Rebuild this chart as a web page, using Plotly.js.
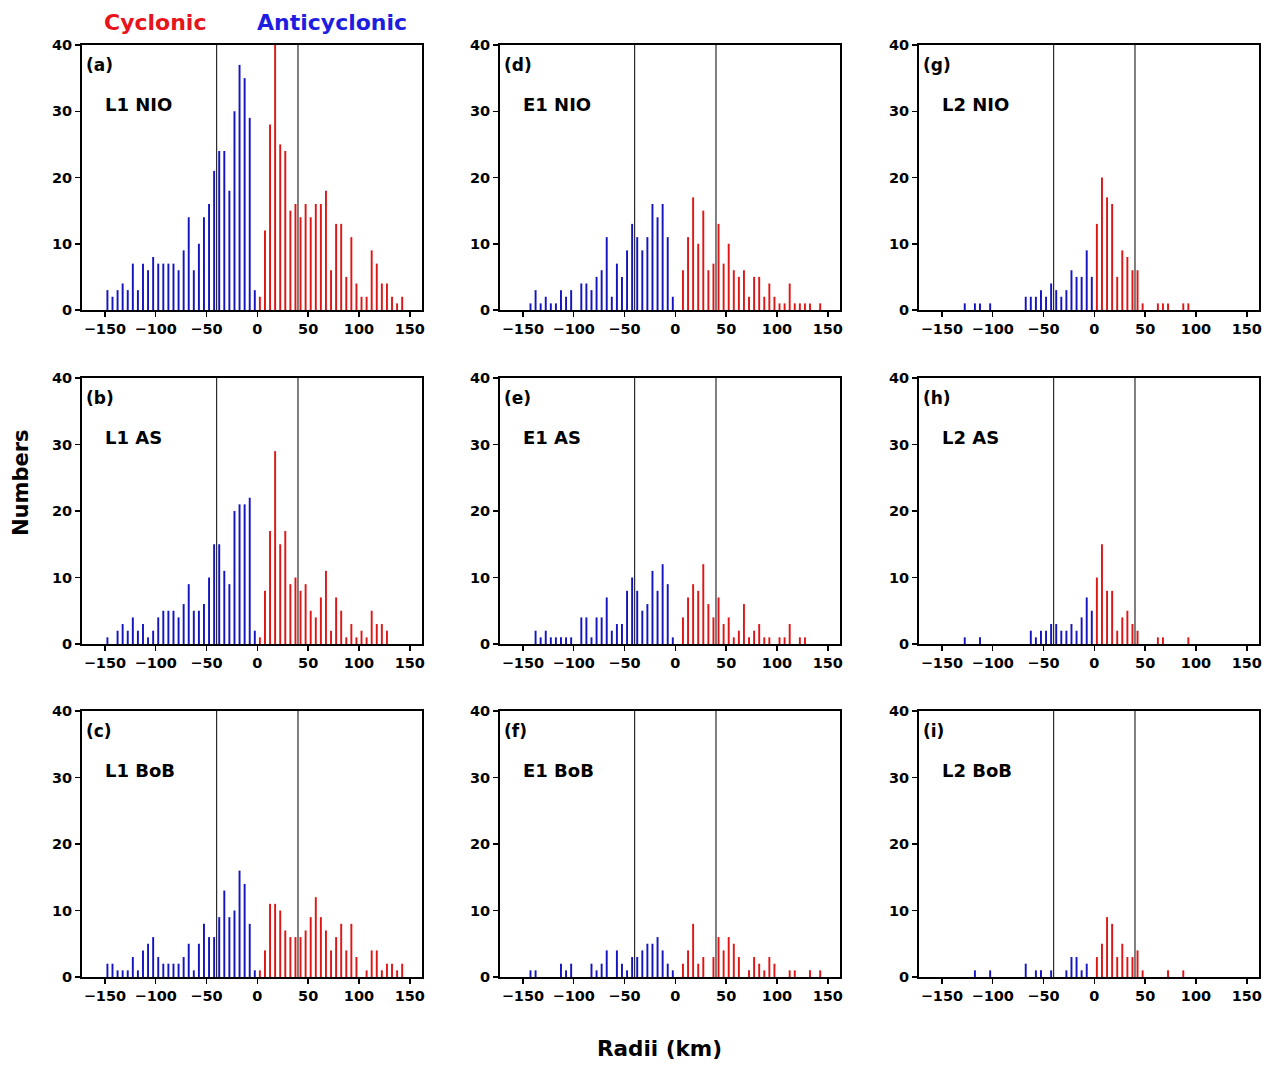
<!DOCTYPE html>
<html>
<head>
<meta charset="utf-8">
<script src="https://cdn.plot.ly/plotly-3.0.1.min.js"></script>
<style>html,body{margin:0;padding:0;background:#fff;}#chart{width:1279px;height:1066px;}</style>
</head>
<body>
<div id="chart"></div>
<script>
// Bin centres (km)
const blueBins = [-147.5,-142.5,-137.5,-132.5,-127.5,-122.5,-117.5,-112.5,-107.5,-102.5,-97.5,-92.5,-87.5,-82.5,-77.5,-72.5,-67.5,-62.5,-57.5,-52.5,-47.5,-42.5,-37.5,-32.5,-27.5,-22.5,-17.5,-12.5,-7.5,-2.5];
const redBins = [2.5,7.5,12.5,17.5,22.5,27.5,32.5,37.5,42.5,47.5,52.5,57.5,62.5,67.5,72.5,77.5,82.5,87.5,92.5,97.5,102.5,107.5,112.5,117.5,122.5,127.5,132.5,137.5,142.5];

// Panel names
const panelLetters = ["(a)","(b)","(c)","(d)","(e)","(f)","(g)","(h)","(i)"];
const panelNames = ["L1 NIO","L1 AS","L1 BoB","E1 NIO","E1 AS","E1 BoB","L2 NIO","L2 AS","L2 BoB"];

// Anticyclonic (blue) counts
const antiA = [3,2,3,4,3,7,3,7,6,8,7,7,7,7,6,9,14,6,10,14,16,21,24,24,18,30,37,35,29,3];
const antiB = [1,0,2,3,2,4,2,3,1,2,4,5,5,5,4,6,9,5,5,6,10,15,15,11,9,20,21,21,22,2];
const antiC = [2,2,1,1,1,3,1,4,5,6,3,2,2,2,2,3,5,1,5,8,6,6,9,13,9,10,16,14,8,1];
const antiD = [0,1,3,1,2,1,1,3,2,3,0,4,4,3,5,6,11,2,7,5,9,13,11,9,11,16,14,16,11,2];
const antiE = [0,0,2,1,2,1,1,1,1,1,0,4,4,1,4,4,7,2,3,3,8,10,8,5,6,11,8,12,9,1];
const antiF = [0,1,1,0,0,0,0,2,1,2,0,0,0,2,1,2,4,0,4,2,1,3,3,4,5,5,6,4,2,1];
const antiG = [0,0,0,0,1,0,1,1,0,1,0,0,0,0,0,0,2,2,2,3,2,4,3,2,3,6,5,5,9,5];
const antiH = [0,0,0,0,1,0,0,1,0,0,0,0,0,0,0,0,0,2,1,2,2,3,3,2,2,3,2,4,7,5];
const antiI = [0,0,0,0,0,0,1,0,0,1,0,0,0,0,0,0,2,0,1,1,0,1,0,0,1,3,3,1,2,0];

// Cyclonic (red) counts
const cycA = [2,12,28,40,25,24,15,16,14,16,14,16,16,18,6,13,13,5,11,4,2,2,9,7,4,4,2,1,2];
const cycB = [1,8,17,29,15,17,9,10,8,9,5,4,7,11,2,7,5,1,3,1,2,1,5,3,3,2,0,0,0];
const cycC = [1,4,11,11,10,7,6,6,6,7,9,12,9,7,4,6,8,4,8,3,0,1,4,4,1,2,2,1,2];
const cycD = [0,6,11,17,10,15,6,7,13,7,10,6,5,6,2,5,5,2,4,2,1,1,4,1,1,1,1,0,1];
const cycE = [0,4,7,9,8,12,6,4,7,3,4,1,2,6,1,2,3,1,1,0,1,1,3,0,1,1,0,0,0];
const cycF = [0,2,4,8,2,3,0,3,6,4,6,5,3,0,1,3,2,1,3,2,0,0,1,1,0,0,1,0,1];
const cycG = [13,20,17,16,5,9,8,6,6,1,0,0,1,1,1,0,0,1,1,0,0,0,0,0,0,0,0,0,0];
const cycH = [10,15,8,8,2,4,5,3,2,0,0,0,1,1,0,0,0,0,1,0,0,0,0,0,0,0,0,0,0];
const cycI = [3,5,9,8,3,5,3,3,4,1,0,0,0,0,1,0,0,1,0,0,0,0,0,0,0,0,0,0,0];

// Reference lines (km)
const refLines = [-40, 40];
const xTicks = [-150,-100,-50,0,50,100,150];
const yTicks = [0,10,20,30,40];

const antiSets = [antiA,antiB,antiC,antiD,antiE,antiF,antiG,antiH,antiI];
const cycSets = [cycA,cycB,cycC,cycD,cycE,cycF,cycG,cycH,cycI];

const W = 1279, H = 1066;
const colPx = [[82,422],[500,840],[919,1259]];
const rowPx = [[45,310],[378,644],[711,977]];

const BLUE = 'rgb(20,20,192)';
const RED = 'rgb(224,22,22)';
const FONT = 'DejaVu Sans';

const traces = [];
const layout = {
  width: W, height: H,
  margin: {l:0, r:0, t:0, b:0},
  paper_bgcolor: '#fff', plot_bgcolor: '#fff',
  showlegend: false,
  barmode: 'overlay',
  shapes: [], annotations: [],
  font: {family: FONT, color: '#000'}
};

for (let p = 0; p < 9; p++) {
  const col = Math.floor(p / 3), row = p % 3;
  const n = p + 1;
  const xa = 'x' + (n === 1 ? '' : n), ya = 'y' + (n === 1 ? '' : n);
  const xk = 'xaxis' + (n === 1 ? '' : n), yk = 'yaxis' + (n === 1 ? '' : n);
  traces.push({type:'bar', x: blueBins, y: antiSets[p], width: 1.9, xaxis: xa, yaxis: ya,
    marker:{color: BLUE, line:{width:0}}, hoverinfo:'x+y'});
  traces.push({type:'bar', x: redBins, y: cycSets[p], width: 1.9, xaxis: xa, yaxis: ya,
    marker:{color: RED, line:{width:0}}, hoverinfo:'x+y'});
  const axCommon = {
    showline: true, mirror: true, linecolor: '#000', linewidth: 2,
    ticks: 'outside', ticklen: 5, tickwidth: 1.5, tickcolor: '#000',
    showgrid: false, zeroline: false,
    tickfont: {family: FONT, size: 14.5, color: '#000', weight: 700}
  };
  layout[xk] = Object.assign({}, axCommon, {
    domain: [colPx[col][0]/W, colPx[col][1]/W],
    anchor: ya, range: [-172.5, 162], tickmode: 'array', tickvals: xTicks
  });
  layout[yk] = Object.assign({}, axCommon, {
    domain: [1 - rowPx[row][1]/H, 1 - rowPx[row][0]/H],
    anchor: xa, range: [0, 40], tickmode: 'array', tickvals: yTicks
  });
  refLines.forEach(v => {
    layout.shapes.push({type:'line', xref: xa, yref: ya + ' domain', x0: v, x1: v, y0: 0, y1: 1,
      line:{color:'#000', width:1}, layer:'above'});
  });
  layout.annotations.push({xref: xa + ' domain', yref: ya + ' domain', x: 0.006, y: 0.925,
    xanchor:'left', yanchor:'middle', showarrow:false, text: panelLetters[p],
    font:{family: FONT, size: 17, color:'#000', weight: 700}});
  layout.annotations.push({xref: xa + ' domain', yref: ya + ' domain', x: 0.062, y: 0.775,
    xanchor:'left', yanchor:'middle', showarrow:false, text: panelNames[p],
    font:{family: FONT, size: 18, color:'#000', weight: 700}});
}

// Figure-level texts
layout.annotations.push({xref:'paper', yref:'paper', x: 155/W, y: 1 - 22/H, xanchor:'center', yanchor:'middle',
  showarrow:false, text:'Cyclonic', font:{family: FONT, size: 22, color: 'rgb(232,20,28)', weight: 700}});
layout.annotations.push({xref:'paper', yref:'paper', x: 332/W, y: 1 - 22/H, xanchor:'center', yanchor:'middle',
  showarrow:false, text:'Anticyclonic', font:{family: FONT, size: 22, color: 'rgb(30,30,224)', weight: 700}});
layout.annotations.push({xref:'paper', yref:'paper', x: 21/W, y: 1 - 483/H, xanchor:'center', yanchor:'middle',
  showarrow:false, text:'Numbers', textangle: -90, font:{family: FONT, size: 21, color: '#000', weight: 700}});
layout.annotations.push({xref:'paper', yref:'paper', x: 659/W, y: 1 - 1048/H, xanchor:'center', yanchor:'middle',
  showarrow:false, text:'Radii (km)', font:{family: FONT, size: 21.5, color: '#000', weight: 700}});

Plotly.newPlot('chart', traces, layout, {staticPlot: true, displayModeBar: false});
</script>
</body>
</html>
